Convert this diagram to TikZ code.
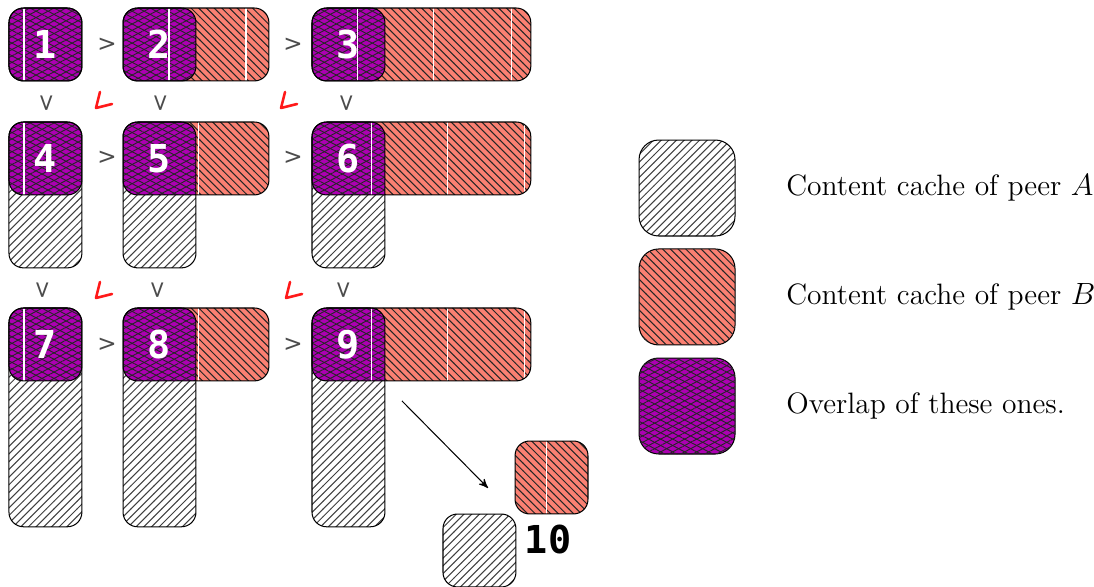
\documentclass[tikz,border=0pt]{standalone}
\usepackage{fontspec}
\newfontfamily\digitfont{DejaVu Sans Mono}
\newfontfamily\signfont{DejaVu Sans}
\usepackage{tikz}
\usetikzlibrary{patterns, patterns.meta, positioning, arrows}
\definecolor{peerB}{RGB}{250,128,114}
\definecolor{overlap}{RGB}{172,0,178}

\begin{document}
\begin{tikzpicture}[>=stealth', semithick,
    cacheA/.style={rounded corners=2mm, pattern=north east lines, pattern color=black!75},
    cacheB/.style={rounded corners=2mm, fill=peerB, postaction={pattern=north west lines, pattern color=black!85}},
    both/.style={fill=overlap,
        postaction={pattern={Lines[angle=28, distance=2.2pt, line width=.35pt]}, pattern color=black!85},
        postaction={pattern={Lines[angle=-28, distance=2.2pt, line width=.35pt]}, pattern color=black!85}},
    rim/.style={draw=black, thin, rounded corners=2mm},
    seam/.style={draw=white, thin},
    key/.style={draw, thin, rounded corners=2.7mm, minimum width=1.316cm, minimum height=1.316cm, inner sep=0},
    note/.style={inner sep=0, font=\fontsize{11.5}{14}\selectfont},
    order/.style={text=black!70, font=\signfont\small},
    tick/.style={draw=red!90, line width=1pt, line cap=round, line join=round},
    tag/.style={text=white, font=\digitfont\bfseries\fontsize{15}{18}\selectfont}]
    \useasboundingbox (0,0) rectangle (15.0,-8.035);

    % the nine caches
    \foreach \x/\y/\w/\h/\n/\cuts in {
        0.123/-0.110/1/1/1/{0.206},
        1.687/-0.110/2/1/2/{0.63,1.686},
        4.278/-0.110/3/1/3/{0.63,1.67,2.73},
        0.123/-1.673/1/2/4/{0.206},
        1.687/-1.673/2/2/5/{1.03},
        4.278/-1.673/3/2/6/{0.82,1.86,2.92},
        0.123/-4.223/1/3/7/{0.206},
        1.687/-4.223/2/3/8/{1.03},
        4.278/-4.223/3/3/9/{0.82,1.86,2.92}}
    {
        \fill[cacheA] (\x,\y) rectangle ++(1,-\h);
        \fill[cacheB] (\x,\y) rectangle ++(\w,-1);
        \begin{scope}
            \clip[rounded corners=2mm] (\x,\y) rectangle ++(\w,-1);
            \fill[both, rounded corners=2mm] (\x,\y) rectangle ++(1,-\h);
            \foreach \c in \cuts
                \draw[seam] (\x+\c,\y) -- ++(0,-1);
        \end{scope}
        \draw[rim] (\x,\y) rectangle ++(1,-\h);
        \draw[rim] (\x,\y) rectangle ++(\w,-1);
        \node[tag] (n\n) at (\x+0.5,\y-0.5) {\n};
    }

    % step 10
    \fill[cacheB] (7.062,-6.047) rectangle ++(1,-1);
    \draw[seam] (7.487,-6.047) -- ++(0,-1);
    \draw[rim] (7.062,-6.047) rectangle ++(1,-1);
    \fill[cacheA] (6.074,-7.048) rectangle ++(1,-1);
    \draw[rim] (6.074,-7.048) rectangle ++(1,-1);
    \node[tag, text=black] (n10) at (7.514,-7.404) {10};

    \coordinate (from) at (5.512,-5.498);
    \coordinate (to) at (6.691,-6.691);
    \draw[->, thin] (from) -- (to);

    % order signs
    \foreach \px/\py [count=\i] in {1.467/-0.617, 4.018/-0.617, 1.467/-2.167, 4.018/-2.167, 1.467/-4.731, 4.018/-4.731}
        \node[order] (gt\i) at (\px,\py) {>};
    \foreach \px/\py [count=\i] in {0.631/-1.412, 2.194/-1.412, 4.744/-1.412, 0.576/-3.976, 2.153/-3.976, 4.703/-3.976}
        \node[order, rotate=-90] (vee\i) at (\px,\py) {>};
    \foreach \px/\py in {1.316/-1.481, 3.853/-1.481, 1.316/-4.086, 3.922/-4.086}
        \draw[tick] (\px,\py) ++(0.055,0.22) -- ++(-0.055,-0.22) -- ++(0.22,0.055);

    % legend
    \node[cacheA, key] (keyA) at (9.42,-2.578) {};
    \node[cacheB, key] (keyB) at (9.42,-4.072) {};
    \node[both, key] (keyAB) at (9.42,-5.567) {};
    \node[note, right=0.686cm of keyA] (textA) {Content cache of peer $A$};
    \node[note, right=0.686cm of keyB] (textB) {Content cache of peer $B$};
    \node[note, right=0.686cm of keyAB] (textAB) {Overlap of these ones.};
\end{tikzpicture}
\end{document}
